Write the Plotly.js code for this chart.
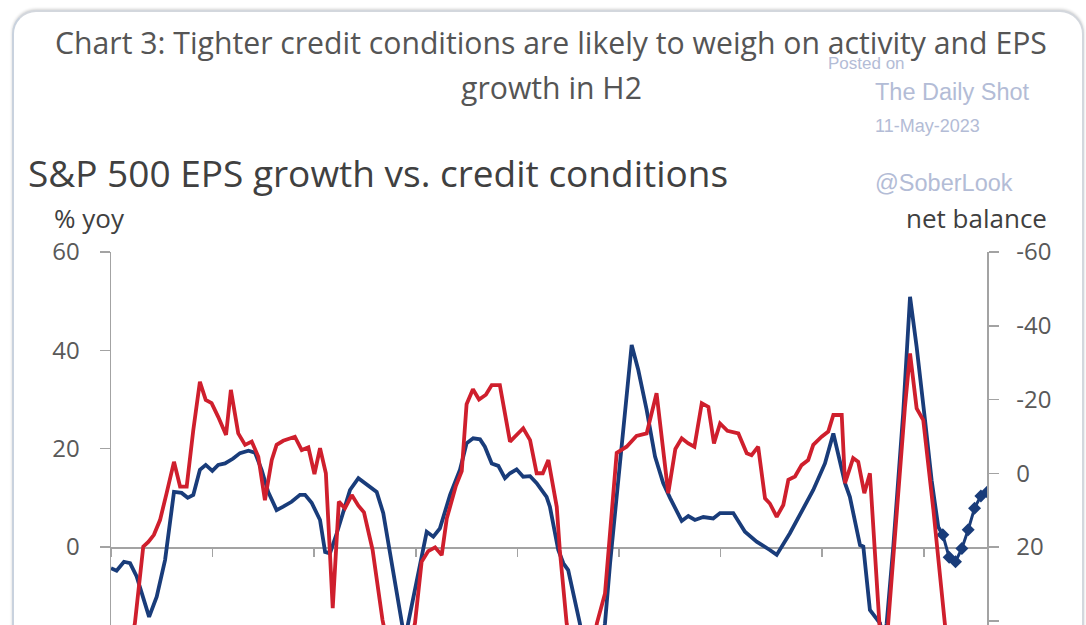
<!DOCTYPE html>
<html>
<head>
<meta charset="utf-8">
<script src="https://cdn.plot.ly/plotly-3.0.1.min.js"></script>
<style>
  html, body { margin: 0; padding: 0; background: #ffffff; overflow: hidden; }
  #card { position: absolute; left: 12px; top: 10px; width: 1068px; height: 720px;
          border: 2px solid #d3d7dd; border-left-color: #c9d2de; border-radius: 24px;
          box-shadow: 0 -1px 3px rgba(0,0,0,0.18); background: #ffffff; }
  #chart { position: absolute; left: 0; top: 0; width: 1086px; height: 625px; }
</style>
</head>
<body>
<div id="card"></div>
<div id="chart"></div>
<script>
// ---------------- data ----------------
// S&P 500 EPS growth, % yoy (left axis)
const epsDates = [1990.00,1990.22,1990.51,1990.75,1991.01,1991.50,1991.80,1992.13,1992.48,1992.78,
  1993.02,1993.24,1993.50,1993.73,1993.99,1994.22,1994.49,1994.81,1995.08,1995.41,1995.67,1995.93,
  1996.19,1996.52,1996.78,1997.11,1997.44,1997.64,1997.90,1998.23,1998.43,1998.62,1998.89,1999.41,
  1999.74,2000.00,2000.46,2000.72,2001.05,2001.44,2001.57,2001.70,2002.17,2002.43,2002.69,2002.95,
  2003.35,2003.74,2004.00,2004.26,2004.53,2004.72,2004.99,2005.25,2005.51,2005.71,2005.97,2006.23,
  2006.50,2006.76,2007.15,2007.28,2007.61,2007.81,2008.00,2008.46,2008.94,2009.45,2009.65,2009.97,
  2010.30,2010.50,2010.76,2011.09,2011.42,2011.74,2012.01,2012.47,2012.73,2012.99,2013.32,2013.71,
  2013.98,2014.50,2014.96,2015.42,2015.94,2016.21,2016.73,2017.26,2017.65,2018.11,2018.44,2018.90,
  2019.09,2019.49,2019.62,2019.88,2020.28,2020.41,2020.54,2020.80,2021.19,2021.46,2021.72,2022.05,
  2022.31,2022.57,2022.75];
const epsGrowth = [-4.3,-4.8,-3.0,-3.3,-6.0,-14.2,-10.1,-2.6,11.2,11.0,
  10.0,10.6,15.7,16.7,15.5,16.7,17.0,18.0,19.1,19.6,19.2,15.7,
  11.2,7.5,8.2,9.2,10.6,10.6,9.0,5.5,-1.0,-1.3,2.8,11.6,
  14.0,13.0,11.2,6.9,-3.3,-15.5,-19.0,-15.5,-4.0,3.1,2.1,3.8,
  10.6,15.7,21.1,22.1,21.9,20.4,17.0,16.5,14.0,15.0,15.8,14.3,
  14.4,13.0,10.2,8.2,-0.6,-3.3,-4.7,-15.5,-32.0,-15.5,-3.3,14.0,
  31.3,41.1,36.0,27.9,18.4,13.0,10.0,5.3,6.3,5.5,6.1,5.8,
  6.9,6.9,3.1,1.1,-0.6,-1.6,2.8,7.8,11.6,17.0,23.1,13.0,
  10.2,0.4,0.1,-12.8,-15.5,-20.0,-15.5,0.0,27.2,50.9,40.7,25.8,
  13.6,4.1,2.5];

// EPS growth forecast (diamond markers, left axis)
const fcstDates = [2022.75,2023.00,2023.25,2023.50,2023.75,2024.00,2024.25,2024.50];
const fcstGrowth = [2.5,-2.1,-3.0,-0.3,3.5,7.9,10.4,11.2];

// Credit conditions, net balance (right axis, inverted)
const creditDates = [1990.50,1990.94,1991.27,1991.47,1991.69,1991.93,1992.19,1992.48,1992.72,1992.98,
  1993.24,1993.50,1993.73,1993.96,1994.22,1994.53,1994.72,1995.01,1995.28,1995.54,1995.80,1996.06,
  1996.33,1996.52,1996.78,1997.05,1997.24,1997.51,1997.77,1998.01,1998.23,1998.46,1998.73,1998.97,
  1999.21,1999.48,1999.74,1999.96,2000.30,2000.69,2001.30,2001.97,2002.23,2002.49,2002.76,2003.02,
  2003.22,2003.58,2003.81,2004.00,2004.25,2004.49,2004.76,2004.99,2005.31,2005.71,2006.23,2006.50,
  2006.76,2007.00,2007.22,2007.55,2007.67,2007.94,2008.55,2009.13,2009.45,2009.91,2010.30,2010.69,
  2011.09,2011.48,2011.94,2012.22,2012.47,2012.73,2012.97,2013.26,2013.52,2013.74,2013.98,2014.27,
  2014.70,2015.03,2015.22,2015.48,2015.75,2015.94,2016.21,2016.47,2016.67,2016.93,2017.19,2017.45,
  2017.65,2017.98,2018.24,2018.44,2018.77,2018.90,2019.22,2019.42,2019.66,2019.88,2020.28,2020.43,
  2020.60,2020.93,2021.26,2021.46,2021.72,2021.98,2022.38,2022.83,2023.00];
const creditBalance = [55,40.7,19.9,18.6,16.7,12.7,5.4,-3.1,3.6,3.6,
  -11.7,-24.8,-19.9,-19.0,-15.3,-10.4,-22.6,-10.8,-7.7,-8.6,-4.5,7.3,
  -3.6,-7.7,-8.8,-9.3,-9.9,-6.3,-7.0,0.2,-6.8,0.0,36.6,7.7,
  9.5,5.9,8.8,10.6,20.8,39.8,60,40.6,24.0,21.1,20.1,22.2,
  12.3,3.4,-0.6,-18.7,-22.8,-20.0,-21.3,-23.9,-23.9,-8.6,-12.2,-9.0,
  0.0,0.0,-3.6,9.1,20.8,40.7,65,40.7,32.6,-5.5,-7.2,-10.1,
  -10.8,-21.7,5.4,-6.6,-9.5,-8.1,-7.2,-19.0,-18.0,-8.1,-13.5,-11.5,
  -10.8,-5.4,-4.9,-7.2,6.8,8.2,11.8,8.6,1.8,0.9,-2.2,-3.6,
  -7.7,-9.9,-11.3,-15.8,-15.8,2.7,-4.1,-3.1,5.4,0.0,40.7,60,
  40.7,10.0,-18.0,-32.5,-17.6,-14.4,10.0,40.7,52];

const leftTicks = [60, 40, 20, 0, -20];
const leftTickText = ['60', '40', '20', '0', '-20'];
const rightTicks = [-60, -40, -20, 0, 20, 40];
const rightTickText = ['-60', '-40', '-20', '0', '20', '40'];

// ---------------- layout helpers (pixel -> paper) ----------------
const PL = 111, PR = 987, PT = 252, PB = 625;
const fx = px => (px - PL) / (PR - PL);
const fy = py => (PB - py) / (PB - PT);

const navy = '#193c7a';
const red = '#cf1f2d';
const axisGray = '#a3a3a3';
const tickFont = { family: 'Open Sans, sans-serif', size: 24, color: '#595959' };
const wm = '#b3bcd6';
const wmFamily = 'Liberation Sans, Arial, sans-serif';
const titleFont = { family: 'Open Sans, sans-serif', size: 30.2, color: '#555555' };

function ann(text, px, py, anchor, font) {
  return { text: text, x: fx(px), y: fy(py), xref: 'paper', yref: 'paper',
           xanchor: anchor, yanchor: 'middle', showarrow: false, font: font };
}

const traces = [
  { x: epsDates, y: epsGrowth, type: 'scatter', mode: 'lines', yaxis: 'y',
    line: { color: navy, width: 3.8 }, name: 'EPS growth' },
  { x: fcstDates, y: fcstGrowth, type: 'scatter', mode: 'lines+markers', yaxis: 'y',
    line: { color: navy, width: 3 }, marker: { symbol: 'diamond', size: 10, color: navy },
    name: 'EPS forecast' },
  { x: creditDates, y: creditBalance, type: 'scatter', mode: 'lines', yaxis: 'y2',
    line: { color: red, width: 3.8 }, name: 'Credit conditions' }
];

const layout = {
  width: 1086, height: 625,
  margin: { l: PL, r: 1086 - PR, t: PT, b: 0, pad: 0 },
  paper_bgcolor: 'rgba(0,0,0,0)', plot_bgcolor: 'rgba(0,0,0,0)',
  showlegend: false,
  xaxis: { range: [1990, 2024.49], anchor: 'free', position: fy(547),
           showline: true, linecolor: axisGray, linewidth: 1.5, layer: 'below traces',
           ticks: 'outside', ticklen: 8, tickcolor: axisGray, tickwidth: 1.5,
           tick0: 1990, dtick: 4, showticklabels: false, showgrid: false, zeroline: false },
  yaxis: { range: [-15.86, 60], tickvals: leftTicks, ticktext: leftTickText, ticks: 'outside', ticklen: 10,
           tickcolor: axisGray, tickwidth: 1.5, showline: true, linecolor: axisGray, linewidth: 1.5,
           showgrid: false, zeroline: false, tickfont: tickFont, ticklabelstandoff: 15 },
  yaxis2: { range: [41.15, -60], overlaying: 'y', side: 'right', tickvals: rightTicks, ticktext: rightTickText,
            ticks: 'outside', ticklen: 10, tickcolor: axisGray, tickwidth: 1.5,
            showline: true, linecolor: axisGray, linewidth: 1.5,
            showgrid: false, zeroline: false, tickfont: tickFont, ticklabelstandoff: 13 },
  annotations: [
    ann('Chart 3: Tighter credit conditions are likely to weigh on activity and EPS', 551, 42, 'center', titleFont),
    ann('growth in H2', 551, 88, 'center', titleFont),
    ann('Posted on', 826, 63, 'left', { family: wmFamily, size: 17, color: wm }),
    ann('The Daily Shot', 873, 92, 'left', { family: wmFamily, size: 23.5, color: wm }),
    ann('11-May-2023', 873, 126, 'left', { family: wmFamily, size: 18, color: wm }),
    ann('@SoberLook', 873, 183, 'left', { family: wmFamily, size: 23.5, color: wm }),
    ann('S&amp;P 500 EPS growth vs. credit conditions', 26, 172, 'left',
        { family: 'Open Sans, sans-serif', size: 37, color: '#404040' }),
    ann('% yoy', 52, 218, 'left', { family: 'Open Sans, sans-serif', size: 26, color: '#404040' }),
    ann('net balance', 1049, 218, 'right', { family: 'Open Sans, sans-serif', size: 26, color: '#404040' })
  ]
};

Plotly.newPlot('chart', traces, layout, { staticPlot: true, displayModeBar: false });
</script>
</body>
</html>
